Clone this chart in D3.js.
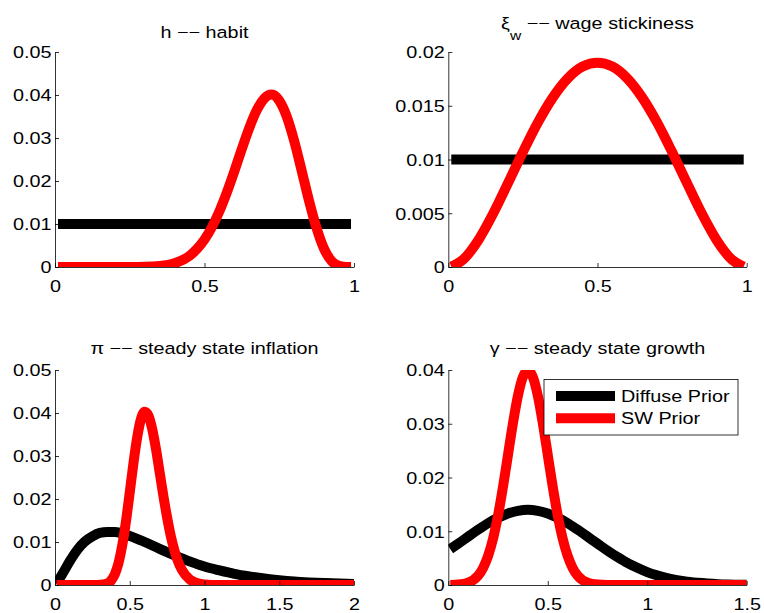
<!DOCTYPE html>
<html><head><meta charset="utf-8">
<script src="https://cdn.jsdelivr.net/npm/d3@7"></script>
<style>
body{margin:0;background:#fff}
svg{display:block}
text{font-family:"Liberation Sans",Arial,Helvetica,sans-serif;fill:#000}
</style>
</head><body>
<svg id="chart" width="764" height="613"></svg>
<script>
// ---------------- DATA ----------------
const seriesNames = ["Diffuse Prior", "SW Prior"];

// h -- habit
const hDiffuseX = [0.01, 0.99];
const hDiffuse  = [0.01, 0.01];
const hSWX = [0.01,0.05,0.1,0.15,0.2,0.25,0.3,0.35,0.4,0.45,0.475,0.5,0.525,0.55,0.575,0.6,0.625,0.65,0.675,0.7,0.725,0.75,0.775,0.8,0.825,0.85,0.875,0.9,0.925,0.95,0.975,0.99];
const hSW  = [0,0,0,0,0,0,0.00004,0.00022,0.00087,0.0026,0.0042,0.0064,0.0093,0.013,0.0174,0.0223,0.0275,0.0324,0.0365,0.0392,0.0401,0.0387,0.035,0.0293,0.0224,0.0153,0.009,0.0042,0.0014,0.00026,0.00001,0];

// xi_w -- wage stickiness
const wDiffuseX = [0.01, 0.99];
const wDiffuse  = [0.01, 0.01];
const wSWX = [0.01,0.05,0.1,0.15,0.2,0.25,0.3,0.35,0.4,0.45,0.5,0.55,0.6,0.65,0.7,0.75,0.8,0.85,0.9,0.95,0.99];
const wSW  = [0.00003,0.00069,0.00247,0.00495,0.0078,0.0107,0.01343,0.01576,0.01754,0.01865,0.019,0.01865,0.01754,0.01576,0.01343,0.0107,0.0078,0.00495,0.00247,0.00069,0.00003];

// pi -- steady state inflation
const piDiffuseX = [0.01,0.05,0.1,0.15,0.2,0.25,0.3,0.35,0.4,0.5,0.6,0.7,0.8,0.9,1.0,1.1,1.2,1.3,1.4,1.5,1.6,1.7,1.8,1.9,2.0];
const piDiffuse  = [0.0003,0.0026,0.0056,0.0082,0.0101,0.0113,0.0121,0.0123,0.0123,0.0114,0.01,0.0084,0.0069,0.0055,0.0043,0.0034,0.0026,0.002,0.0015,0.0011,0.0008,0.0006,0.00045,0.00033,0.00024];
const piSWX = [0.01,0.2,0.3,0.35,0.375,0.4,0.425,0.45,0.475,0.5,0.525,0.55,0.575,0.6,0.625,0.65,0.675,0.7,0.725,0.75,0.775,0.8,0.825,0.85,0.9,0.95,1.0,1.1,1.5,2.0];
const piSW  = [0,0,0.00003,0.00037,0.00105,0.0025,0.00513,0.00926,0.01488,0.02155,0.0284,0.0344,0.0386,0.0403,0.0394,0.0363,0.0317,0.0262,0.0207,0.0157,0.0113,0.0079,0.0053,0.00345,0.00132,0.00045,0.00014,0.00001,0,0];

// gamma -- steady state growth
const gDiffuseX = [0.01,0.05,0.1,0.15,0.2,0.25,0.3,0.35,0.4,0.45,0.5,0.55,0.6,0.65,0.7,0.75,0.8,0.85,0.9,0.95,1.0,1.1,1.2,1.3,1.4,1.5];
const gDiffuse  = [0.0067,0.0077,0.009,0.0103,0.0115,0.0125,0.0133,0.0138,0.014,0.0138,0.0133,0.0125,0.0115,0.0103,0.009,0.0077,0.0064,0.0052,0.0041,0.0032,0.0024,0.0013,0.0006,0.0003,0.0001,0.00004];
const gSWX = [0.01,0.05,0.1,0.15,0.175,0.2,0.225,0.25,0.275,0.3,0.325,0.35,0.375,0.4,0.425,0.45,0.475,0.5,0.525,0.55,0.575,0.6,0.625,0.65,0.7,0.75,0.8,1.0,1.5];
const gSW  = [0.00002,0.00009,0.00044,0.00175,0.00318,0.0054,0.00863,0.01295,0.01827,0.0242,0.0301,0.0352,0.0387,0.0399,0.0387,0.0352,0.0301,0.0242,0.01827,0.01295,0.00863,0.0054,0.00318,0.00175,0.00044,0.00009,0.00001,0,0];

// tick values and labels
const hXTicks = [0, 0.5, 1],        hXLabels = ["0", "0.5", "1"];
const hYTicks = [0, 0.01, 0.02, 0.03, 0.04, 0.05], hYLabels = ["0", "0.01", "0.02", "0.03", "0.04", "0.05"];
const wXTicks = [0, 0.5, 1],        wXLabels = ["0", "0.5", "1"];
const wYTicks = [0, 0.005, 0.01, 0.015, 0.02], wYLabels = ["0", "0.005", "0.01", "0.015", "0.02"];
const piXTicks = [0, 0.5, 1, 1.5, 2], piXLabels = ["0", "0.5", "1", "1.5", "2"];
const piYTicks = [0, 0.01, 0.02, 0.03, 0.04, 0.05], piYLabels = ["0", "0.01", "0.02", "0.03", "0.04", "0.05"];
const gXTicks = [0, 0.5, 1, 1.5],   gXLabels = ["0", "0.5", "1", "1.5"];
const gYTicks = [0, 0.01, 0.02, 0.03, 0.04], gYLabels = ["0", "0.01", "0.02", "0.03", "0.04"];

// ---------------- DRAW ----------------
const svg = d3.select("#chart");
const FS = 16.5, SX = 1.2;
const colors = ["#000000", "#ff0000"];

const panels = [
  { id: "h", box: [55, 354, 52, 267], xDom: [0, 1], yDom: [0, 0.05],
    xt: hXTicks, xl: hXLabels, yt: hYTicks, yl: hYLabels,
    series: [[hDiffuseX, hDiffuse], [hSWX, hSW]],
    title: [{t: "h \u2212\u2212 habit"}], titleY: 37.5 },
  { id: "w", box: [448.3, 746.7, 52, 267], xDom: [0, 1], yDom: [0, 0.02],
    xt: wXTicks, xl: wXLabels, yt: wYTicks, yl: wYLabels,
    series: [[wDiffuseX, wDiffuse], [wSWX, wSW]],
    title: [{t: "\u03BE"}, {t: "w", sub: true}, {t: " \u2212\u2212 wage stickiness"}], titleY: 29 },
  { id: "pi", box: [55, 354, 370, 585], xDom: [0, 2], yDom: [0, 0.05],
    xt: piXTicks, xl: piXLabels, yt: piYTicks, yl: piYLabels,
    series: [[piDiffuseX, piDiffuse], [piSWX, piSW]],
    title: [{t: "\u03C0 \u2212\u2212 steady state inflation"}], titleY: 353.5 },
  { id: "g", box: [448.3, 746.7, 370, 585], xDom: [0, 1.5], yDom: [0, 0.04],
    xt: gXTicks, xl: gXLabels, yt: gYTicks, yl: gYLabels,
    series: [[gDiffuseX, gDiffuse], [gSWX, gSW]],
    title: [{t: "\u03B3 \u2212\u2212 steady state growth"}], titleY: 353.5, legend: true }
];

const defs = svg.append("defs");

panels.forEach(p => {
  const [L, R, T, B] = p.box;
  const x = d3.scaleLinear().domain(p.xDom).range([L, R]);
  const y = d3.scaleLinear().domain(p.yDom).range([B, T]);

  defs.append("clipPath").attr("id", "clip-" + p.id)
    .append("rect").attr("x", L).attr("y", T).attr("width", R - L).attr("height", B - T);

  const g = svg.append("g");
  const plot = g.append("g").attr("clip-path", `url(#clip-${p.id})`);
  const line = d3.line().x(d => x(d[0])).y(d => y(d[1])).curve(d3.curveMonotoneX);

  p.series.forEach((s, i) => {
    const pts = s[0].map((xv, k) => [xv, s[1][k]]);
    plot.append("path").datum(pts)
      .attr("d", line)
      .attr("fill", "none")
      .attr("stroke", colors[i])
      .attr("stroke-width", 10)
      .attr("stroke-linejoin", "round");
  });

  // axes
  const xAxis = d3.axisBottom(x).tickValues(p.xt).tickFormat((d, i) => p.xl[i])
    .tickSizeInner(-4).tickSizeOuter(0);
  const yAxis = d3.axisLeft(y).tickValues(p.yt).tickFormat((d, i) => p.yl[i])
    .tickSizeInner(-4).tickSizeOuter(0);

  const gx = g.append("g").attr("transform", `translate(0,${B})`).call(xAxis);
  const gy = g.append("g").attr("transform", `translate(${L},0)`).call(yAxis);
  [gx, gy].forEach(a => {
    a.select(".domain").attr("stroke", "#000").attr("stroke-width", 0.8);
    a.selectAll(".tick line").attr("stroke", "#000").attr("stroke-width", 0.8);
    a.attr("font-family", null).attr("font-size", null);
  });
  gx.selectAll(".tick text")
    .attr("y", null).attr("dy", null)
    .attr("font-size", FS)
    .attr("transform", `translate(0,24.5) scale(${SX},1)`);
  gy.selectAll(".tick text")
    .attr("x", null).attr("dy", "0.36em")
    .attr("font-size", FS)
    .attr("transform", `translate(-3.5,0) scale(${SX},1)`);

  // title
  const tt = g.append("g").attr("transform", `translate(${(L + R) / 2},${p.titleY}) scale(${SX},1)`)
    .append("text").attr("text-anchor", "middle").attr("font-size", FS);
  let shifted = false;
  p.title.forEach(part => {
    const ts = tt.append("tspan").text(part.t);
    if (part.sub) { ts.attr("font-size", 13).attr("dy", 11); shifted = true; }
    else if (shifted) { ts.attr("dy", -11); shifted = false; }
  });

  // legend
  if (p.legend) {
    const lg = g.append("g");
    lg.append("rect").attr("x", 544).attr("y", 379.5).attr("width", 194).attr("height", 55.5)
      .attr("fill", "#fff").attr("stroke", "#000").attr("stroke-width", 0.8);
    const rows = [396, 418.3];
    seriesNames.forEach((name, i) => {
      lg.append("line").attr("x1", 556).attr("x2", 615).attr("y1", rows[i]).attr("y2", rows[i])
        .attr("stroke", colors[i]).attr("stroke-width", 10);
      lg.append("g").attr("transform", `translate(621,${rows[i] + 6}) scale(${SX},1)`)
        .append("text").attr("font-size", FS).text(name);
    });
  }
});
</script>
</body></html>
